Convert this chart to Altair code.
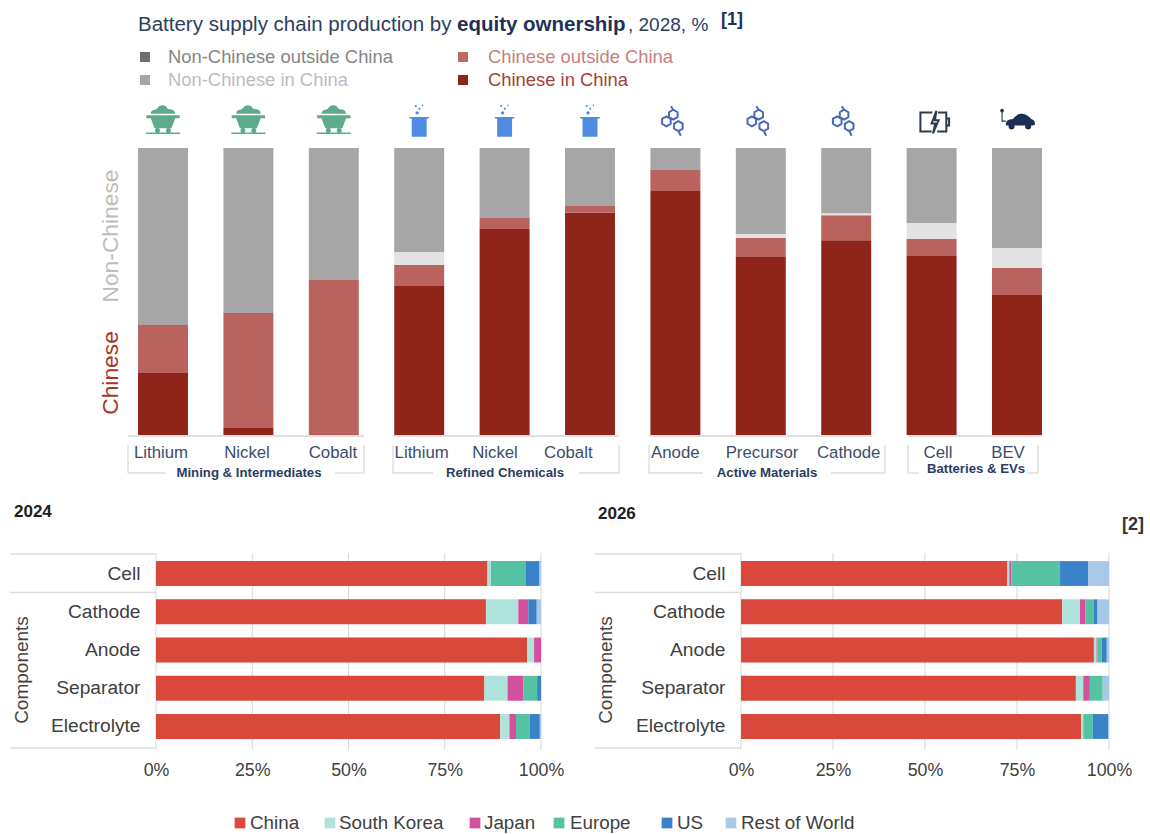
import math
import altair as alt
import pandas as pd

FONT = "Liberation Sans"

# Upper panel: share of production by equity ownership, 2028
stages = ["Lithium", "Nickel", "Cobalt", "Lithium", "Nickel", "Cobalt",
          "Anode", "Precursor", "Cathode", "Cell", "BEV"]
stage_keys = [f"{i}:{s}" for i, s in enumerate(stages)]
owners = ["Chinese in China", "Chinese outside China", "Non-Chinese in China", "Non-Chinese outside China"]
chinese_in_china = [21.6, 2.4, 0.3, 51.9, 71.8, 77.4, 85.0, 62.0, 67.9, 62.4, 48.8]
chinese_outside = [16.7, 40.1, 53.7, 7.3, 3.8, 2.4, 7.3, 6.6, 8.7, 5.9, 9.4]
non_chinese_in_china = [0, 0, 0, 4.6, 0, 0, 0, 1.4, 0.7, 5.6, 7.0]
non_chinese_outside = [61.7, 57.5, 46.0, 36.2, 24.4, 20.2, 7.7, 30.0, 22.7, 26.1, 34.8]
owner_colors = ["#8f2419", "#b9625e", "#e2e2e2", "#a6a6a6"]

groups = [
    ("Mining & Intermediates", ["Lithium", "Nickel", "Cobalt"], [118, 376]),
    ("Refined Chemicals", ["Lithium", "Nickel", "Cobalt"], [385, 605]),
    ("Active Materials", ["Anode", "Precursor", "Cathode"], [632, 892]),
    ("Batteries & EVs", ["Cell", "BEV"], [903, 1043]),
]

# Lower panels: manufacturing capacity share by region
components = ["Cell", "Cathode", "Anode", "Separator", "Electrolyte"]
regions = ["China", "South Korea", "Japan", "Europe", "US", "Rest of World"]
region_colors = ["#da473b", "#aee3dc", "#d4509c", "#55c3a2", "#3a82c8", "#a8c9e6"]
share_2024 = {
    "China": [86.1, 85.7, 96.4, 85.3, 89.4],
    "South Korea": [0.9, 8.4, 1.8, 6.0, 2.4],
    "Japan": [0, 2.6, 1.8, 4.1, 1.7],
    "Europe": [9.1, 0, 0, 3.6, 3.6],
    "US": [3.5, 2.2, 0, 1.0, 2.6],
    "Rest of World": [0.4, 1.1, 0, 0, 0.3],
}
share_2026 = {
    "China": [72.4, 87.3, 95.9, 91.0, 92.4],
    "South Korea": [0.5, 4.8, 0.7, 2.0, 0.6],
    "Japan": [0.6, 1.4, 0.2, 1.8, 0],
    "Europe": [13.2, 2.4, 1.2, 3.5, 2.6],
    "US": [7.7, 1.0, 1.4, 0, 4.2],
    "Rest of World": [5.6, 3.1, 0.6, 1.7, 0.2],
}
pct_ticks = [0, 25, 50, 75, 100]

GREY_LINE = "#dcdcdc"
NAVY = "#3b4d6b"
AXIS_TEXT = "#404040"


def text(content, x, y, size, color, weight="normal", align="left", angle=0):
    return alt.Chart(pd.DataFrame({"t": [content]})).mark_text(
        font=FONT, fontSize=size, color=color, fontWeight=weight, align=align, baseline="middle", angle=angle
    ).encode(x=alt.value(x), y=alt.value(y), text="t:N")


def line(x, y, x2=None, y2=None, color=GREY_LINE, width=1.3):
    enc = {"x": alt.value(x), "y": alt.value(y)}
    if x2 is not None:
        enc["x2"] = alt.value(x2)
    if y2 is not None:
        enc["y2"] = alt.value(y2)
    return alt.Chart(pd.DataFrame({"v": [0]})).mark_rule(color=color, strokeWidth=width).encode(**enc)


def swatch(x, y, color, size):
    return alt.Chart(pd.DataFrame({"v": [0]})).mark_point(
        shape="square", filled=True, size=size, color=color, opacity=1, strokeWidth=0
    ).encode(x=alt.value(x), y=alt.value(y))


# Stage positions are shared by the stacked bars and the icons above them
stage_scale = alt.Scale(domain=stage_keys, range=[120.3, 1059.7], paddingInner=0.415, paddingOuter=0.2075)
stage_x = alt.X("stage:N", scale=stage_scale, axis=None)

top_rows = []
for i, key in enumerate(stage_keys):
    for rank, (owner, values) in enumerate(zip(owners, [chinese_in_china, chinese_outside,
                                                        non_chinese_in_china, non_chinese_outside])):
        top_rows.append({"stage": key, "owner": owner, "share": values[i], "rank": rank})

top_bars = alt.Chart(pd.DataFrame(top_rows)).mark_bar().encode(
    x=stage_x,
    y=alt.Y("share:Q", stack="zero", axis=None, scale=alt.Scale(domain=[0, 100], range=[435, 148])),
    color=alt.Color("owner:N", scale=alt.Scale(domain=owners, range=owner_colors), legend=None),
    order=alt.Order("rank:Q"),
)


def hexagon(cx, cy, r):
    pts = [(cx + r * math.cos(math.radians(60 * k + 30)), cy + r * math.sin(math.radians(60 * k + 30)))
           for k in range(6)]
    return "M" + "L".join(f"{px:.3f} {py:.3f}" for px, py in pts) + "Z"


def circle(cx, cy, r):
    return (f"M{cx - r} {cy}A{r} {r} 0 1 1 {cx + r} {cy}A{r} {r} 0 1 1 {cx - r} {cy}Z")


CART = ("M-.72 -.42C-.72 -.72 -.42 -.62 -.34 -.74C-.2 -.98 .16 -.98 .26 -.74C.42 -.66 .72 -.72 .72 -.42Z"
        "M-.98 -.34L.98 -.34L.98 -.16L.72 -.16L.5 .42L-.5 .42L-.72 -.16L-.98 -.16Z"
        + circle(-.32, .56, .15) + circle(.32, .56, .15)
        + "M-1 .68L1 .68L1 .77L-1 .77Z")
BEAKER = ("M-.58 -.24L.58 -.24L.58 -.14L.44 -.14L.44 .92L-.44 .92L-.44 -.14L-.58 -.14Z"
          + circle(-.12, -.48, .1) + circle(.02, -.72, .06) + circle(-.2, -.88, .06) + circle(.2, -.92, .05))
MOLECULE = (hexagon(-.14, -.42, .33) + hexagon(-.6, .02, .33) + hexagon(.2, .34, .33)
            + "M-.14 -.75L-.3 -.98M.2 .67L.36 .98")
BATTERY = ("M.05 -.68L-.8 -.68L-.8 .68L0 .68M.45 -.68L1.05 -.68L1.05 .68L.4 .68"
           "M1.05 -.25L1.25 -.25L1.25 .25L1.05 .25"
           "M.34 -.8L0 .1L.26 .1L.1 .82L.5 -.12L.24 -.12Z")
CAR = ("M-.62 .28C-.62 .02 -.5 -.02 -.22 -.06C-.06 -.28 .12 -.36 .34 -.34C.58 -.32 .7 -.14 .82 -.04"
       "C.95 0 1 .08 1 .26L.85 .3L-.62 .3Z"
       + circle(-.3, .36, .17) + circle(.62, .36, .17)
       + "M-.62 .1L-.86 .1L-.86 -.42L-.8 -.42L-.8 .03L-.62 .03Z" + circle(-.83, -.52, .1))


def icons(keys, path, color, size, stroked=False, y=121):
    frame = pd.DataFrame({"stage": keys})
    mark = alt.Chart(frame).mark_point(
        shape=path, size=size, opacity=1,
        filled=not stroked,
        color=color,
        strokeWidth=2 if stroked else 0,
    )
    return mark.encode(x=stage_x, y=alt.value(y))


icon_layers = [
    icons(stage_keys[0:3], CART, "#5cab8c", 1156),
    icons(stage_keys[3:6], BEAKER, "#4f8be0", 1156),
    icons(stage_keys[6:9], MOLECULE, "#4a69b5", 900, stroked=True),
    icons(stage_keys[9:10], BATTERY, "#2f3a4a", 784, stroked=True, y=122),
    icons(stage_keys[10:11], CAR, "#1c2e55", 1296, y=120),
]

# Per-group tick labels, titles and brackets below the bars
label_layers = []
for gi, (title, names, span) in enumerate(groups):
    keys = [f"{gi}:{j}:{n}" for j, n in enumerate(names)]
    label_layers.append(
        alt.Chart(pd.DataFrame({"k": keys, "n": names})).mark_text(
            font=FONT, fontSize=16.8, color=NAVY, baseline="middle"
        ).encode(
            x=alt.X("k:N", axis=None, scale=alt.Scale(domain=keys, range=span, paddingInner=0, paddingOuter=0)),
            y=alt.value(453),
            text="n:N",
        )
    )

group_frames = [
    (128, 364, 166, 335, 249, 473, 364),
    (393, 619, 433, 579, 505, 473, 619),
    (649, 885, 703, 831, 767, 473, 872),
    (908, 1038, 919, 1027, 976, 469, 1042),
]
bracket_layers = []
for (title, _, _), (left, right, gap_a, gap_b, mid, ty, base_end) in zip(groups, group_frames):
    bracket_layers += [
        line(left, 436, base_end, color="#d4d4d4"),
        line(left, 445, None, 473),
        line(right, 445, None, 473),
        line(left, 473, gap_a),
        line(gap_b, 473, right),
        text(title, mid, ty, 13.2, "#2a3d63", weight="bold", align="center"),
    ]


def region_frame(shares):
    rows = []
    for rank, region in enumerate(regions):
        for component, value in zip(components, shares[region]):
            rows.append({"component": component, "region": region, "share": value, "rank": rank})
    return pd.DataFrame(rows)


def region_panel(shares, x_range, rule_left):
    x_scale = alt.Scale(domain=[0, 100], range=x_range)
    y_scale = alt.Scale(domain=components, range=[554.4, 745.6], paddingInner=0.35, paddingOuter=0.175)
    grid = alt.Chart(pd.DataFrame({"tick": pct_ticks})).mark_rule(color="#d6d6d6", strokeWidth=1).encode(
        x=alt.X("tick:Q", scale=x_scale, axis=None), y=alt.value(553), y2=alt.value(750)
    )
    bars = alt.Chart(region_frame(shares)).mark_bar().encode(
        x=alt.X("share:Q", stack="zero", scale=x_scale, axis=alt.Axis(
            orient="bottom", offset=-75, values=pct_ticks, format=".0f", labelExpr="datum.value + '%'",
            domain=False, ticks=False, grid=False, title=None, labelFont=FONT, labelFontSize=17.8,
            labelColor=AXIS_TEXT, labelPadding=2, labelFlush=False, labelOverlap=False,
        )),
        y=alt.Y("component:N", scale=y_scale, axis=alt.Axis(
            orient="left", offset=-x_range[0], domain=False, ticks=False, grid=False, title=None,
            labelFont=FONT, labelFontSize=19.2, labelColor=AXIS_TEXT, labelPadding=16,
        )),
        color=alt.Color("region:N", scale=alt.Scale(domain=regions, range=region_colors), legend=None),
        order=alt.Order("rank:Q"),
    )
    frame = [
        line(rule_left, 554, x_range[0]),
        line(rule_left, 592.5, x_range[0]),
        line(rule_left, 748, x_range[0]),
        line(x_range[0], 554, None, 748, color="#ececec"),
    ]
    return [grid] + frame + [bars]


# Ownership key above the bars
legend_items = [
    (145, 57, "#6e6e6e", "Non-Chinese outside China", 168, "#858585"),
    (145, 80, "#a6a6a6", "Non-Chinese in China", 168, "#bcbcbc"),
    (463, 57, "#bd6865", "Chinese outside China", 488, "#c57f7d"),
    (463, 80, "#8f2419", "Chinese in China", 488, "#a63f35"),
]
owner_legend = []
for sx, sy, color, label, tx, tc in legend_items:
    owner_legend.append(swatch(sx, sy, color, 100))
    owner_legend.append(text(label, tx, sy, 18.4, tc))

# Region key along the bottom edge
region_key_x = [(240, 250), (330, 339), (475, 484), (559, 570), (667, 677), (731, 741)]
region_legend = []
for region, color, (sx, tx) in zip(regions, region_colors, region_key_x):
    region_legend.append(swatch(sx, 823, color, 115))
    region_legend.append(text(region, tx, 823, 18.8, AXIS_TEXT))

headings = [
    text("Battery supply chain production by", 138, 25, 20.5, "#2c3e5e"),
    text("equity ownership", 457, 25, 20.5, "#1f3157", weight="bold"),
    text(", 2028, %", 628, 25, 19, "#2c3e5e"),
    text("[1]", 721, 20, 18, "#1f3157", weight="bold"),
    text("Non-Chinese", 111, 236, 22.8, "#bdbdbd", align="center", angle=270),
    text("Chinese", 111, 373, 22.8, "#a8352a", align="center", angle=270),
    text("2024", 14, 512, 17, "#202020", weight="bold"),
    text("2026", 598, 514, 17, "#202020", weight="bold"),
    text("[2]", 1122, 525, 18, "#333333", weight="bold"),
    text("Components", 22, 670, 19, AXIS_TEXT, align="center", angle=270),
    text("Components", 606, 670, 19, AXIS_TEXT, align="center", angle=270),
]

layers = (
    headings + owner_legend + icon_layers + [top_bars] + bracket_layers + label_layers
    + region_panel(share_2024, [156, 541], 10)
    + region_panel(share_2026, [741, 1109], 595)
    + region_legend
)

chart = alt.layer(*layers).resolve_scale(
    x="independent", y="independent", color="independent"
).properties(
    width=1150, height=834, padding=0, autosize=alt.AutoSizeParams(type="none"), background="white"
).configure_view(stroke=None)

chart.save("out.html", embed_options={"renderer": "svg", "actions": False})
